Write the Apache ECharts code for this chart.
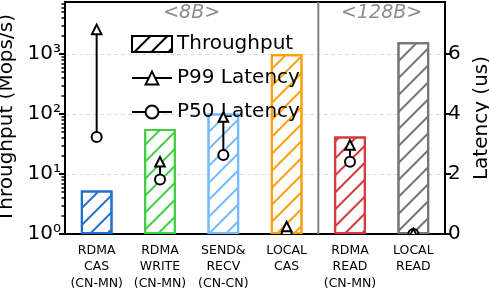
<!DOCTYPE html>
<html><head><meta charset="utf-8">
<script src="https://cdn.jsdelivr.net/npm/echarts@6/dist/echarts.min.js"></script>
<style>html,body{margin:0;padding:0;background:#fff}#c{width:489px;height:293px}</style>
</head><body><div id="c"></div>
<script>
// ---- data ----
const categories = ['RDMA\nCAS\n(CN-MN)', 'RDMA\nWRITE\n(CN-MN)', 'SEND&\nRECV\n(CN-CN)', 'LOCAL\nCAS', 'RDMA\nREAD\n(CN-MN)', 'LOCAL\nREAD'];
const throughput = [5.3, 56, 102, 990, 42, 1570];          // Mops/s (log axis)
const p99Latency = [6.82, 2.41, 3.9, 0.25, 2.97, 0.02];     // us
const p50Latency = [3.23, 1.82, 2.63, 0.0, 2.41, 0.0];      // us
const leftTickValues = [1, 10, 100, 1000];
const leftTickLabels = ['10\u2070', '10\u00b9', '10\u00b2', '10\u00b3'];
const minorTickValues = [2,3,4,5,6,7,8,9,20,30,40,50,60,70,80,90,200,300,400,500,600,700,800,900,2000,3000,4000,5000,6000,7000];
const rightTickValues = [0, 2, 4, 6];
const groupNames = ['<8B>', '<128B>'];
const groupFirst = [0, 4];
const groupLast = [3, 5];

// ---- styles ----
const barColors = ['#1f6fd1', '#3fcf3f', '#73bbff', '#ff9f0a', '#d43a3a', '#747474'];
const FONT = 'DejaVu Sans';
const LOG_MAX = 7360, LAT_MAX = 7.733;
function hatch(c) {
  return { symbol: 'rect', symbolSize: 1, dashArrayX: [1, 0], dashArrayY: [1.6, 9.4], rotation: -Math.PI / 4, color: c };
}

const chart = echarts.init(document.getElementById('c'), null, { renderer: 'canvas' });
chart.setOption({
  animation: false,
  textStyle: { fontFamily: FONT },
  grid: { left: 65, right: 44, top: 2, bottom: 59, show: true, borderColor: '#000', borderWidth: 2, backgroundColor: 'transparent',
    containLabel: false, outerBoundsMode: 'none' },
  legend: {
    orient: 'vertical', left: 126, top: 29, itemWidth: 40, itemHeight: 16, itemGap: 14,
    selectedMode: false,
    textStyle: { fontSize: 20, fontFamily: FONT, color: '#000' },
    data: [{ name: 'Throughput', icon: 'rect' }, 'P99 Latency', 'P50 Latency']
  },
  xAxis: {
    type: 'category', data: categories,
    axisLine: { lineStyle: { color: '#000', width: 2 } },
    axisTick: { alignWithLabel: true, length: 6, lineStyle: { color: '#000', width: 2 } },
    axisLabel: { interval: 0, fontSize: 12.5, lineHeight: 16.5, margin: 8, color: '#000', fontFamily: FONT }
  },
  yAxis: [
    {
      type: 'log', logBase: 10, min: 1, max: LOG_MAX, position: 'left',
      axisLine: { show: true, lineStyle: { color: '#000', width: 2 } },
      axisTick: { show: true, length: 6, customValues: leftTickValues, lineStyle: { color: '#000', width: 2 } },
      axisLabel: { fontSize: 20, color: '#000', margin: 4, fontFamily: FONT, customValues: leftTickValues,
        formatter: v => { const i = leftTickValues.findIndex(t => Math.abs(t - v) / t < 1e-6); return i >= 0 ? leftTickLabels[i] : ''; } },
      splitLine: { show: true, lineStyle: { type: [4, 3], color: '#dddddd', width: 1 } },
      name: 'Throughput (Mops/s)', nameLocation: 'middle', nameGap: 43,
      nameTextStyle: { fontSize: 20, color: '#000', fontFamily: FONT }
    },
    {
      type: 'value', min: 0, max: LAT_MAX, position: 'right',
      axisLine: { show: true, lineStyle: { color: '#000', width: 2 } },
      axisTick: { show: true, length: 6, customValues: rightTickValues, lineStyle: { color: '#000', width: 2 } },
      axisLabel: { fontSize: 20, color: '#000', margin: 3, fontFamily: FONT, customValues: rightTickValues },
      splitLine: { show: false },
      name: 'Latency (us)', nameLocation: 'middle', nameGap: 22, nameRotate: 90,
      nameTextStyle: { fontSize: 20, color: '#000', fontFamily: FONT }
    },
    {
      type: 'log', logBase: 10, min: 1, max: LOG_MAX, position: 'left',
      axisLine: { show: false },
      axisTick: { show: true, length: 3.5, customValues: minorTickValues, lineStyle: { color: '#000', width: 1.5 } },
      axisLabel: { show: false },
      splitLine: { show: false }
    }
  ],
  series: [
    {
      name: 'Throughput', type: 'bar', yAxisIndex: 0, barWidth: '50%', z: 2,
      itemStyle: { color: '#fff', borderColor: '#000', borderWidth: 2, decal: hatch('#000') },
      data: throughput.map((v, i) => ({ value: v, itemStyle: { color: '#fff', borderColor: barColors[i], borderWidth: 2, decal: hatch(barColors[i]) } }))
    },
    {
      name: 'P99 Latency', type: 'line', yAxisIndex: 1, data: [],
      symbol: 'triangle', symbolSize: 11,
      itemStyle: { color: '#fff', borderColor: '#000', borderWidth: 2 },
      lineStyle: { color: '#000', width: 2 }
    },
    {
      name: 'P50 Latency', type: 'line', yAxisIndex: 1, data: [],
      symbol: 'circle', symbolSize: 11,
      itemStyle: { color: '#fff', borderColor: '#000', borderWidth: 2 },
      lineStyle: { color: '#000', width: 2 }
    },
    {
      type: 'custom', yAxisIndex: 1, silent: true, z: 1,
      data: groupNames.map((n, g) => [groupFirst[g], groupLast[g]]),
      renderItem: (params, api) => {
        const cs = params.coordSys;
        const band = api.size([1, 1])[0];
        const x0 = api.coord([api.value(0), 0])[0];
        const x1 = api.coord([api.value(1), 0])[0];
        const children = [{
          type: 'text',
          style: { text: groupNames[params.dataIndex], x: (x0 + x1) / 2, y: cs.y + 11, align: 'center', verticalAlign: 'middle',
            fontSize: 19, fontStyle: 'italic', fontFamily: FONT, fill: '#8c8c8c' }
        }];
        if (params.dataIndex < groupNames.length - 1) {
          const xs = x1 + band / 2;
          children.push({ type: 'line', shape: { x1: xs, y1: cs.y, x2: xs, y2: cs.y + cs.height }, style: { stroke: '#808080', lineWidth: 2 } });
        }
        return { type: 'group', children };
      }
    },
    {
      type: 'custom', yAxisIndex: 1, clip: true, silent: true, z: 4,
      data: categories.map((c, i) => [i, p50Latency[i], p99Latency[i]]),
      renderItem: (params, api) => {
        const a = api.coord([api.value(0), api.value(1)]);
        const b = api.coord([api.value(0), api.value(2)]);
        const h = 4.75;
        return {
          type: 'group', children: [
            { type: 'line', shape: { x1: a[0], y1: a[1], x2: b[0], y2: b[1] }, style: { stroke: '#000', lineWidth: 2 } },
            { type: 'circle', shape: { cx: a[0], cy: a[1], r: 5 }, style: { fill: '#fff', stroke: '#000', lineWidth: 2 } },
            { type: 'polygon', shape: { points: [[b[0], b[1] - h], [b[0] - h, b[1] + h], [b[0] + h, b[1] + h]] }, style: { fill: '#fff', stroke: '#000', lineWidth: 2 } }
          ]
        };
      }
    }
  ]
});
</script></body></html>
